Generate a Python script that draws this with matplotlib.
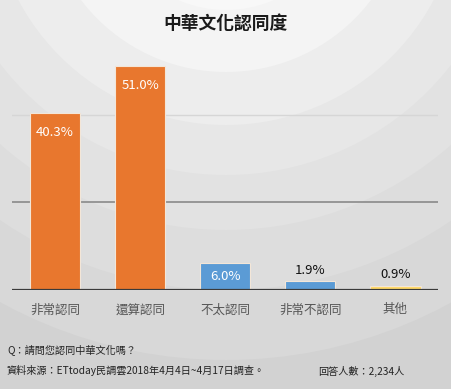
import matplotlib
matplotlib.use("Agg")
import matplotlib.pyplot as plt
from matplotlib.patches import Circle

plt.rcParams['font.family'] = ['Noto Sans CJK TC', 'DejaVu Sans']

# data
categories = ["非常認同", "還算認同", "不太認同", "非常不認同", "其他"]
values = [40.3, 51.0, 6.0, 1.9, 0.9]
colors = ["#E8772E", "#E8772E", "#5B9BD5", "#5B9BD5", "#FFD966"]
inside = [True, True, True, False, False]

title = "中華文化認同度"
question = "Q：請問您認同中華文化嗎？"
source = "資料來源：ETtoday民調雲2018年4月4日~4月17日調查。"
sample = "回答人數：2,234人"

W, H = 452, 389
fig = plt.figure(figsize=(W / 100, H / 100), dpi=100)

# background: concentric grey rings centred above the top edge
bg = fig.add_axes([0, 0, 1, 1], zorder=0)
bg.set_xlim(0, W); bg.set_ylim(H, 0); bg.axis("off")
bg.add_patch(plt.Rectangle((0, 0), W, H, color="#cdcdcd"))
rings = [(560, "#d2d2d2"), (470, "#d8d8d8"), (400, "#dddddd"), (340, "#e2e2e2"),
         (285, "#e7e7e7"), (235, "#ededed"), (182, "#f4f4f4"), (120, "#f8f8f8")]
for r, c in rings:
    bg.add_patch(Circle((226, -110), r, color=c, lw=0))

ax = fig.add_axes([12.5 / W, (H - 289.5) / H, 425.5 / W, 262.5 / H], zorder=1)
ax.patch.set_alpha(0)
x = range(len(categories))
bars = ax.bar(x, values, width=0.59, color=colors, edgecolor="#f3e6d8",
              linewidth=0.8, zorder=3)
ax.set_xlim(-0.5, len(categories) - 0.5)
ax.set_ylim(0, 60)

ax.axhline(20, color="#8a8a8a", lw=1.2, zorder=1)
ax.axhline(40, color="#d6d6d6", lw=1.0, zorder=1)
ax.axhline(0, color="#3a3a3a", lw=1.6, zorder=4)

for i, (v, ins) in enumerate(zip(values, inside)):
    if ins:
        y = v - 4.4 if v > 10 else v / 2
        ax.text(i, y, f"{v:.1f}%", ha="center", va="center", color="white",
                fontsize=9.5, zorder=5)
    else:
        ax.text(i, v + 1.0, f"{v:.1f}%", ha="center", va="bottom",
                color="#111111", fontsize=9.5, zorder=5)

for s in ax.spines.values():
    s.set_visible(False)
ax.set_yticks([])
ax.set_xticks(list(x))
ax.set_xticklabels(categories, fontsize=9.0, color="#555555")
ax.tick_params(axis="x", length=0, pad=10)

fig.text(226 / W, 1 - 24 / H, title, ha="center", va="center",
         fontsize=12.8, fontweight="bold", color="#1a1a1a")
fig.text(7 / W, 1 - 351 / H, question, ha="left", va="center",
         fontsize=7.3, color="#222222")
fig.text(7 / W, 1 - 371 / H, source, ha="left", va="center",
         fontsize=7.3, color="#222222")
fig.text(318 / W, 1 - 371 / H, sample, ha="left", va="center",
         fontsize=7.3, color="#222222")

fig.savefig("out.png", dpi=100)
